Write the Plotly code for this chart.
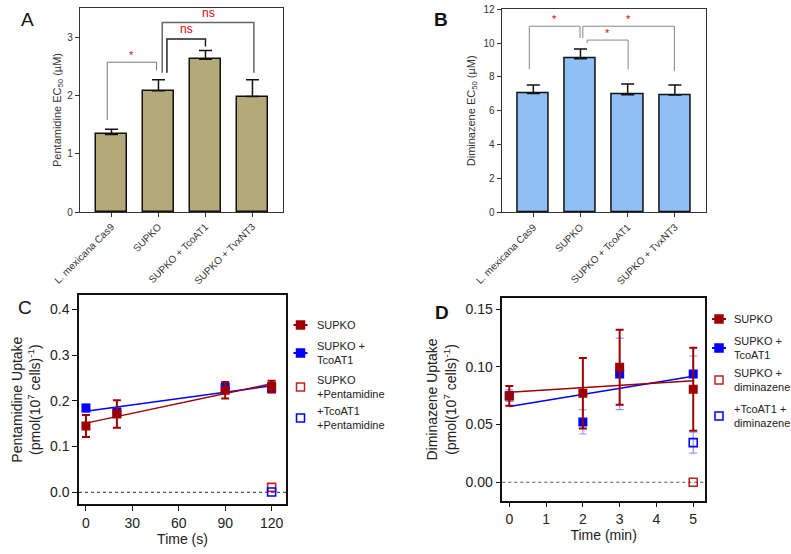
import numpy as np
import plotly.graph_objects as go

# ---- data ----
strains = ["L. mexicana Cas9", "SUPKO", "SUPKO + TcoAT1", "SUPKO + TvxNT3"]
pent_ec50 = [1.33, 2.08, 2.62, 1.98]
pent_ec50_err = [0.09, 0.19, 0.15, 0.29]
dimi_ec50 = [7.03, 9.08, 6.95, 6.93]
dimi_ec50_err = [0.49, 0.57, 0.63, 0.59]

pent_time = [0, 20, 90, 120]
pent_supko = [0.145, 0.171, 0.223, 0.231]
pent_supko_err = [0.024, 0.030, 0.018, 0.013]
pent_tcoat1 = [0.184, 0.175, 0.229, 0.227]
pent_tcoat1_err = [0.009, 0.010, 0.012, 0.010]
pent_inhib_time = [120]
pent_supko_inhib = [0.011]
pent_tcoat1_inhib = [0.001]

dimi_time = [0, 2, 3, 5]
dimi_supko = [0.0748, 0.0771, 0.0997, 0.0806]
dimi_supko_err = [0.0085, 0.0305, 0.0325, 0.036]
dimi_tcoat1 = [0.075, 0.0523, 0.0939, 0.0939]
dimi_tcoat1_err = [0.005, 0.0105, 0.031, 0.0155]
dimi_inhib_time = [5]
dimi_supko_inhib = [0.0]
dimi_tcoat1_inhib = [0.0343]
dimi_tcoat1_inhib_err = [0.009]

pent_legend = ["SUPKO", "SUPKO +<br>TcoAT1", "SUPKO<br>+Pentamidine", "+TcoAT1<br>+Pentamidine"]
dimi_legend = ["SUPKO", "SUPKO +<br>TcoAT1", "SUPKO +<br>diminazene", "+TcoAT1 +<br>diminazene"]

# significance comparisons: (left x, right x, top, left foot, right foot, label, colour, width)
pent_sig = [
    (-0.09, 0.96, 2.57, 1.58, 2.43, "*", "#777", 1),
    (1.18, 2.0, 2.97, 2.39, 2.84, "ns", "#222", 1.5),
    (1.08, 3.03, 3.25, 2.39, 2.39, "ns", "#666", 1.5),
]
dimi_sig = [
    (-0.085, 0.99, 11.0, 8.45, 10.3, "*", "#888", 1),
    (1.05, 2.99, 11.0, 10.3, 8.35, "*", "#888", 1),
    (1.14, 2.01, 10.18, 10.0, 8.45, "*", "#888", 1),
]

RED = "#9e0000"
RED_OPEN = "#c02020"
BLUE = "#0000ff"
FONT = "Liberation Sans, Arial, sans-serif"
W, H = 791, 554

fig = go.Figure()


def bar_panel(xa, ya, vals, errs, color):
    fig.add_trace(go.Bar(
        x=list(range(len(strains))), y=vals, xaxis=xa, yaxis=ya, width=0.66,
        marker=dict(color=color, line=dict(color="#111", width=1.5)),
        error_y=dict(type="data", array=errs, arrayminus=[0] * len(errs),
                     color="#111", thickness=1.5, width=6.5),
        showlegend=False, hoverinfo="y"))


def brackets(xref, yref, sig):
    for x0, x1, top, f0, f1, label, col, w in sig:
        fig.add_shape(type="path", xref=xref, yref=yref,
                      path=f"M {x0} {f0} L {x0} {top} L {x1} {top} L {x1} {f1}",
                      line=dict(color=col, width=w))
        fig.add_annotation(x=(x0 + x1) / 2, y=top, xref=xref, yref=yref, text=label,
                           showarrow=False, yanchor="bottom", yshift=-1 if label == "*" else 1,
                           font=dict(color="#e00000", size=11 if label == "*" else 12, family=FONT))


bar_panel("x", "y", pent_ec50, pent_ec50_err, "#b4a979")
bar_panel("x2", "y2", dimi_ec50, dimi_ec50_err, "#90bff5")
brackets("x", "y", pent_sig)
brackets("x2", "y2", dimi_sig)


def uptake_panel(xa, ya, t, s, se, c, ce, ti, si, ci, cie):
    # linear fits
    tt = np.array([min(t), max(t)], dtype=float)
    for yv, col in ((c, BLUE), (s, RED)):
        k, b = np.polyfit(t, yv, 1)
        fig.add_trace(go.Scatter(x=tt, y=k * tt + b, xaxis=xa, yaxis=ya, mode="lines",
                                 line=dict(color=col, width=1.5), showlegend=False, hoverinfo="skip"))
    fig.add_trace(go.Scatter(x=t, y=c, xaxis=xa, yaxis=ya, mode="markers",
                             marker=dict(symbol="square", size=9, color=BLUE),
                             error_y=dict(type="data", array=ce, color="rgba(60,60,255,0.55)",
                                          thickness=1.2, width=4),
                             showlegend=False))
    fig.add_trace(go.Scatter(x=t, y=s, xaxis=xa, yaxis=ya, mode="markers",
                             marker=dict(symbol="square", size=9, color=RED),
                             error_y=dict(type="data", array=se, color=RED, thickness=2, width=4),
                             showlegend=False))
    fig.add_trace(go.Scatter(x=ti, y=si, xaxis=xa, yaxis=ya, mode="markers",
                             marker=dict(symbol="square-open", size=8, color=RED_OPEN, line=dict(width=1.6)),
                             showlegend=False))
    err = dict(type="data", array=cie, color="rgba(60,60,255,0.55)", thickness=1.2, width=4) if cie else None
    fig.add_trace(go.Scatter(x=ti, y=ci, xaxis=xa, yaxis=ya, mode="markers",
                             marker=dict(symbol="square-open", size=8, color=BLUE, line=dict(width=1.6)),
                             error_y=err, showlegend=False))
    fig.add_shape(type="line", xref=f"{xa} domain", yref=ya, x0=0, x1=1, y0=0, y1=0,
                  line=dict(color="#555", width=1.2, dash="dot"), layer="below")


uptake_panel("x3", "y3", pent_time, pent_supko, pent_supko_err, pent_tcoat1, pent_tcoat1_err,
             pent_inhib_time, pent_supko_inhib, pent_tcoat1_inhib, None)
uptake_panel("x4", "y4", dimi_time, dimi_supko, dimi_supko_err, dimi_tcoat1, dimi_tcoat1_err,
             dimi_inhib_time, dimi_supko_inhib, dimi_tcoat1_inhib, dimi_tcoat1_inhib_err)


def legend_box(names, mx, tx, ys):
    # hand-drawn legend keys next to each uptake panel
    styles = [(RED, True, True), (BLUE, True, True), (RED_OPEN, False, False), (BLUE, False, False)]
    for name, y, (col, filled, line) in zip(names, ys, styles):
        if line:
            fig.add_shape(type="line", xref="paper", yref="paper", x0=(mx - 7) / W, x1=(mx + 7) / W,
                          y0=1 - y / H, y1=1 - y / H, line=dict(color=col, width=2))
        fig.add_shape(type="rect", xref="paper", yref="paper",
                      x0=(mx - 4) / W, x1=(mx + 4) / W, y0=1 - (y + 4) / H, y1=1 - (y - 4) / H,
                      fillcolor=col if filled else "white", line=dict(color=col, width=1.5))
        fig.add_annotation(x=tx / W, y=1 - y / H, xref="paper", yref="paper", text=name,
                           showarrow=False, xanchor="left", yanchor="middle", align="left",
                           font=dict(size=11, color="#222", family=FONT))


legend_box(pent_legend, 300.5, 315, [325, 353, 387, 418])
legend_box(dimi_legend, 719, 732, [319, 348, 380, 416])


def xd(a, b):
    return [a / W, b / W]


def yd(top, bottom):
    return [1 - bottom / H, 1 - top / H]


small_tick = dict(size=10, color="#333", family=FONT)
big_tick = dict(size=14, color="#222", family=FONT)
bar_x = dict(tickmode="array", tickvals=list(range(len(strains))), ticktext=strains, tickangle=-45,
             range=[-0.67, 3.65], ticks="outside", ticklen=4, tickcolor="#333", automargin=False,
             showline=True, linecolor="#333", linewidth=1.3, mirror=True, showgrid=False,
             zeroline=False, tickfont=dict(size=10, color="#333", family=FONT))
bar_y = dict(ticks="outside", ticklen=4, tickcolor="#333", showline=True, linecolor="#333",
             linewidth=1.3, mirror=True, showgrid=False, zeroline=False, tickfont=small_tick,
             automargin=False, title_font=dict(size=11, color="#333", family=FONT))
box = dict(showline=True, linecolor="#111", linewidth=1.5, mirror=True, showgrid=False,
           zeroline=False, ticks="outside", ticklen=5, tickcolor="#111", tickwidth=1.3, automargin=False,
           tickfont=big_tick, title_font=dict(size=14, color="#222", family=FONT))

fig.update_layout(
    width=W, height=H, margin=dict(l=0, r=0, t=0, b=0, autoexpand=False),
    plot_bgcolor="white", paper_bgcolor="white", font=dict(family=FONT),
    bargap=0, showlegend=False,
    xaxis=dict(bar_x, domain=xd(80, 283), anchor="y"),
    yaxis=dict(bar_y, domain=yd(8, 212), anchor="x", range=[0, 3.5], tickvals=[0, 1, 2, 3],
               title=dict(text="Pentamidine EC<sub>50</sub> (µM)", standoff=3)),
    xaxis2=dict(bar_x, domain=xd(501.7, 706), anchor="y2", range=[-0.67, 3.66]),
    yaxis2=dict(bar_y, domain=yd(9.3, 212.3), anchor="x2", range=[0, 12], tickvals=list(range(0, 13, 2)),
                title=dict(text="Diminazene EC<sub>50</sub> (µM)", standoff=5)),
    xaxis3=dict(box, domain=xd(79, 286), anchor="y3", range=[-4.5, 129.3], tickvals=[0, 30, 60, 90, 120],
                title=dict(text="Time (s)", standoff=3)),
    yaxis3=dict(box, domain=yd(295, 504.3), anchor="x3", range=[-0.026, 0.431],
                tickvals=[0, 0.1, 0.2, 0.3, 0.4], tickformat=".1f",
                title=dict(text="Pentamidine Uptake<br>(pmol(10<sup>7</sup> cells)<sup>-1</sup>)", standoff=6)),
    xaxis4=dict(box, domain=xd(502.3, 705), anchor="y4", range=[-0.19, 5.32], tickvals=[0, 1, 2, 3, 4, 5],
                title=dict(text="Time (min)", standoff=3)),
    yaxis4=dict(box, domain=yd(298.3, 500.7), anchor="x4", range=[-0.016, 0.1594],
                tickvals=[0, 0.05, 0.10, 0.15], tickformat=".2f",
                title=dict(text="Diminazene Uptake<br>(pmol(10<sup>7</sup> cells)<sup>-1</sup>)", standoff=6)),
)

for txt, x, y, bold in (("A", 27, 20, False), ("B", 441, 19, True), ("C", 25, 307, False), ("D", 442, 312, True)):
    fig.add_annotation(x=x / W, y=1 - y / H, xref="paper", yref="paper", showarrow=False,
                       text=f"<b>{txt}</b>" if bold else txt, xanchor="center", yanchor="middle",
                       font=dict(size=19, color="#111", family=FONT))

# the default page keeps an 8px body margin; drop it so the figure fills the window
fig.write_html("out.html", config={"displayModeBar": False},
               post_script="document.body.style.margin='0';")
